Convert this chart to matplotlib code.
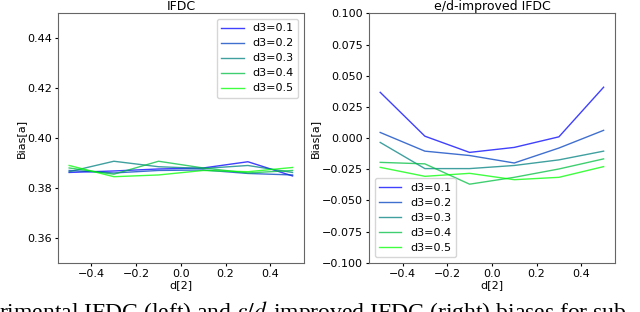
import matplotlib
matplotlib.use("Agg")
import matplotlib.pyplot as plt

# d[2] positions shared by every curve
d2 = [-0.5, -0.3, -0.1, 0.1, 0.3, 0.5]
d3_labels = ["d3=0.1", "d3=0.2", "d3=0.3", "d3=0.4", "d3=0.5"]

# IFDC bias (left panel)
ifdc_01 = [0.3862, 0.3868, 0.3876, 0.3880, 0.3905, 0.3848]
ifdc_02 = [0.3870, 0.3860, 0.3870, 0.3872, 0.3858, 0.3852]
ifdc_03 = [0.3865, 0.3907, 0.3885, 0.3878, 0.3890, 0.3862]
ifdc_04 = [0.3880, 0.3855, 0.3907, 0.3880, 0.3860, 0.3870]
ifdc_05 = [0.3890, 0.3845, 0.3852, 0.3870, 0.3865, 0.3882]

# e/d-improved IFDC bias (right panel)
impr_01 = [0.0367, 0.0015, -0.0115, -0.0075, 0.0010, 0.0408]
impr_02 = [0.0045, -0.0105, -0.0140, -0.0200, -0.0080, 0.0062]
impr_03 = [-0.0035, -0.0245, -0.0245, -0.0220, -0.0175, -0.0105]
impr_04 = [-0.0195, -0.0207, -0.0370, -0.0315, -0.0248, -0.0167]
impr_05 = [-0.0235, -0.0307, -0.0283, -0.0334, -0.0315, -0.0229]

ifdc = [ifdc_01, ifdc_02, ifdc_03, ifdc_04, ifdc_05]
impr = [impr_01, impr_02, impr_03, impr_04, impr_05]

# blue -> green gradient, one colour per d3
colors = [(0.0, i / 4, 1 - i / 4) for i in range(5)]

fig = plt.figure(figsize=(6.4, 3.12), dpi=100)
ax1 = fig.add_axes([0.0906, 0.158, 0.384, 0.799])
ax2 = fig.add_axes([0.5766, 0.158, 0.384, 0.799])

for vals, lab, c in zip(ifdc, d3_labels, colors):
    ax1.plot(d2, vals, color=c, alpha=0.75, linewidth=1.0, label=lab)
for vals, lab, c in zip(impr, d3_labels, colors):
    ax2.plot(d2, vals, color=c, alpha=0.75, linewidth=1.0, label=lab)

ax1.set_ylim(0.35, 0.45)
ax1.set_yticks([0.36, 0.38, 0.40, 0.42, 0.44])
ax2.set_ylim(-0.1, 0.1)
ax2.set_yticks([-0.100, -0.075, -0.050, -0.025, 0.000, 0.025, 0.050, 0.075, 0.100])

for ax, title, loc in [(ax1, "IFDC", "upper right"), (ax2, "e/d-improved IFDC", "lower left")]:
    ax.set_xticks([-0.4, -0.2, 0.0, 0.2, 0.4])
    ax.set_title(title, fontsize=9, pad=2)
    ax.set_xlabel("d[2]", fontsize=8, labelpad=1)
    ax.set_ylabel("Bias[a]", fontsize=8, labelpad=1)
    ax.tick_params(labelsize=8, length=2.5, pad=2)
    for s in ax.spines.values():
        s.set_edgecolor("#666666")
    ax.legend(loc=loc, fontsize=8, handlelength=2.0, labelspacing=0.45)

# cut-off caption from the page below the figure
fig.text(-0.002, -0.021,
         r"rimental IFDC (left) and $\epsilon/d$-improved IFDC (right) biases for sub",
         fontsize=17, family="Liberation Serif", math_fontfamily="stix",
         ha="left", va="baseline")

fig.savefig("out.png", dpi=100)
